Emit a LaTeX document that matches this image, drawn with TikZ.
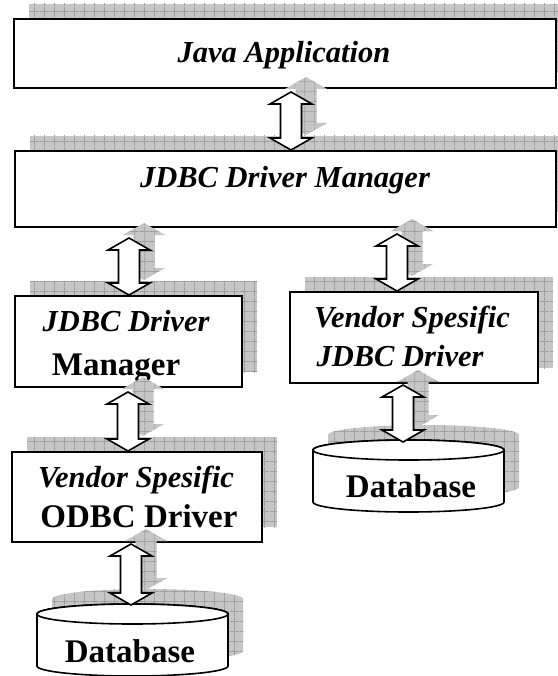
\documentclass[tikz,border=0pt]{standalone}
\usepackage{fontspec}
\setmainfont{Liberation Serif}
\usetikzlibrary{patterns,calc}
\pgfdeclarepatternformonly{shgrid}{\pgfqpoint{0pt}{0pt}}{\pgfqpoint{10pt}{10pt}}{\pgfqpoint{10pt}{10pt}}{%
  \pgfsetlinewidth{0.8pt}%
  \pgfpathmoveto{\pgfqpoint{0pt}{5pt}}\pgfpathlineto{\pgfqpoint{10pt}{5pt}}%
  \pgfpathmoveto{\pgfqpoint{5pt}{0pt}}\pgfpathlineto{\pgfqpoint{5pt}{10pt}}%
  \pgfusepath{stroke}}
\tikzset{
  shadowfill/.style={fill=gray!45, postaction={pattern=shgrid, pattern color=gray!75}},
  boxnode/.style={draw, line width=1.6pt, fill=white, rectangle, inner sep=0pt, outer sep=0pt, anchor=north west},
  arrowbody/.style={draw, line width=1.6pt, fill=white, line join=miter},
  cylbody/.style={draw, line width=1.6pt, fill=white},
  lbl/.style={font=\fontsize{30.5}{36}\selectfont\bfseries\itshape, inner sep=0pt, anchor=base},
  lblup/.style={font=\fontsize{33}{38}\selectfont\bfseries, inner sep=0pt, anchor=base},
}
% box with its shadow: name, x1, y1, x2, y2 (px, y downwards)
\newcommand{\shbox}[5]{%
  \fill[shadowfill] (#2+15,#3-15) rectangle (#4+15,#5-15);
  \node[boxnode, minimum width={#4pt-#2pt}, minimum height={#5pt-#3pt}] (#1) at (#2,#3) {};}
% block double arrow outline: x, ytop, ybot (canvas dimensions)
\newcommand{\arrowpts}[3]{(#1,#2) -- ++(21pt,-12pt) -- ++(-10.5pt,0pt) -- (#1+10.5pt,#3+12pt) -- ++(10.5pt,0pt) -- (#1,#3) -- ++(-21pt,12pt) -- ++(10.5pt,0pt) -- (#1-10.5pt,#2-12pt) -- ++(-10.5pt,0pt) -- cycle}
% double arrow between two anchors: x(px), top anchor, bottom anchor, top gap, bottom gap
\newcommand{\dblarrow}[5]{%
  \path[shadowfill] let \p1=(#2), \p2=(#3) in \arrowpts{#1pt+15pt}{\y1-#4pt+15pt}{\y2+#5pt+15pt};
  \path[arrowbody] let \p1=(#2), \p2=(#3) in \arrowpts{#1pt}{\y1-#4pt}{\y2+#5pt};}
% cylinder outline: xc, yc (top ellipse centre), ybot (end of sides), rx
\newcommand{\cylpath}[4]{(#1-#4,#2) -- (#1-#4,#3) arc[start angle=180,end angle=360,x radius=#4pt,y radius=10pt] -- (#1+#4,#2) arc[start angle=0,end angle=180,x radius=#4pt,y radius=10pt] -- cycle}
\newcommand{\database}[4]{%
  \fill[shadowfill] \cylpath{#1+15}{#2-15}{#3-15}{#4};
  \draw[cylbody] \cylpath{#1}{#2}{#3}{#4};
  \draw[cylbody] (#1,#2) ellipse [x radius=#4pt, y radius=10pt];}
\begin{document}
\begin{tikzpicture}[x=1pt,y=-1pt]
\fill[white] (0,0) rectangle (557,676);
\useasboundingbox (0,0) rectangle (557,676);
% boxes
\shbox{J}{14}{19}{556}{88}
\shbox{DM}{15}{151}{556}{227}
\shbox{L1}{15}{296}{242}{387}
\shbox{VJ}{290}{292}{538}{383}
\shbox{OD}{12}{452}{262}{542}
% databases
\database{132.5}{614}{666}{95.5}
\coordinate (DBLtop) at (132.5,604);
\database{408.5}{450}{502}{95.5}
\coordinate (DBRtop) at (408.5,440);
% labels
\node[lbl] (tJ) at (284,63) {Java Application};
\node[lbl] (tDM) at (285,188) {JDBC Driver Manager};
\node[lbl] (tL1a) at (126,331) {JDBC Driver};
\node[lblup] (tL1b) at (116,375) {Manager};
\node[lbl] (tVJa) at (412,327) {Vendor Spesific};
\node[lbl] (tVJb) at (400,366) {JDBC Driver};
\node[lbl] (tODa) at (136,487) {Vendor Spesific};
\node[lblup] (tODb) at (139,527) {ODBC Driver};
\node[lblup] (tDBL) at (130,662) {Database};
\node[lblup] (tDBR) at (411,497) {Database};
% connectors
\dblarrow{291}{J.south}{DM.north}{4}{1}
\dblarrow{129}{DM.south}{L1.north}{11}{1}
\dblarrow{397}{DM.south}{VJ.north}{7}{1}
\dblarrow{128}{L1.south}{OD.north}{5}{1}
\dblarrow{131}{OD.south}{DBLtop}{2}{-1}
\dblarrow{403}{VJ.south}{DBRtop}{2}{-2}
\end{tikzpicture}
\end{document}
